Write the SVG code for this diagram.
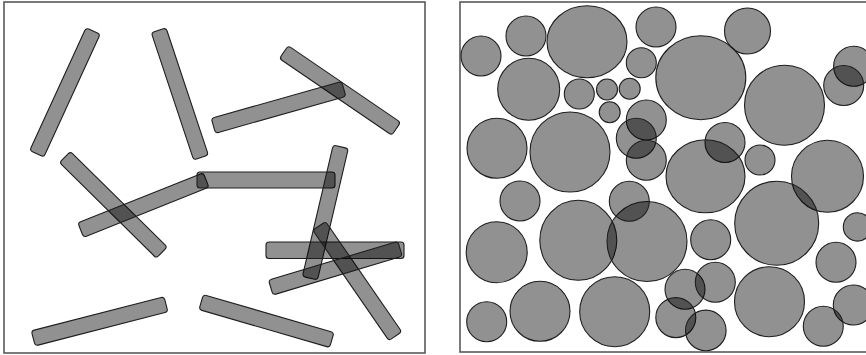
<svg xmlns="http://www.w3.org/2000/svg" width="866" height="355" viewBox="0 0 866 355">
<style>
.frame{fill:#fff;stroke:#5a5a5a;stroke-width:1.6}
.s{fill:#000;fill-opacity:0.43;stroke:#1e1e1e;stroke-width:1.1}
</style>
<rect width="866" height="355" fill="#fff"/>
<rect class="frame" x="4" y="2" width="421" height="351"/>
<rect class="frame" x="460" y="2" width="420" height="350"/>
<g id="bars">
<rect class="s" x="-67.5" y="-7.7" width="135" height="15.5" rx="3" transform="translate(64.9,92.4) rotate(-65.35)"/>
<rect class="s" x="-67" y="-7.7" width="134" height="15.5" rx="3" transform="translate(179.9,93.9) rotate(71.6)"/>
<rect class="s" x="-68" y="-7.7" width="136" height="15.5" rx="3" transform="translate(340,90.4) rotate(34.3)"/>
<rect class="s" x="-67.7" y="-7.7" width="135.5" height="15.5" rx="3" transform="translate(278.5,107.3) rotate(-15.8)"/>
<rect class="s" x="-68" y="-7.7" width="136" height="15.5" rx="3" transform="translate(113.4,204.8) rotate(44.6)"/>
<rect class="s" x="-67.5" y="-7.7" width="135" height="15.5" rx="3" transform="translate(143.4,205) rotate(-21.8)"/>
<rect class="s" x="197" y="172" width="138" height="16" rx="3"/>
<rect class="s" x="-67.5" y="-7.7" width="135" height="15.5" rx="3" transform="translate(325.4,212.5) rotate(103.2)"/>
<rect class="s" x="266" y="242" width="138" height="16.5" rx="3"/>
<rect class="s" x="-67" y="-7.7" width="134" height="15.5" rx="3" transform="translate(357.3,281) rotate(55.4)"/>
<rect class="s" x="-67.5" y="-7.7" width="135" height="15.5" rx="3" transform="translate(335.4,268.1) rotate(-16.7)"/>
<rect class="s" x="-68.5" y="-7.7" width="137" height="15.5" rx="3" transform="translate(99.6,321.3) rotate(-14.4)"/>
<rect class="s" x="-68" y="-7.7" width="136" height="15.5" rx="3" transform="translate(266.5,321) rotate(16.2)"/>
</g>
<g id="circles">
<circle class="s" cx="481" cy="56" r="20"/>
<circle class="s" cx="526" cy="36" r="20"/>
<ellipse class="s" cx="587" cy="41.7" rx="40" ry="36"/>
<circle class="s" cx="528.7" cy="89.2" r="31"/>
<circle class="s" cx="579.3" cy="94" r="15"/>
<circle class="s" cx="607" cy="89.5" r="10.5"/>
<circle class="s" cx="629.7" cy="88.8" r="10.5"/>
<circle class="s" cx="609.7" cy="112.2" r="10.5"/>
<circle class="s" cx="641.3" cy="62.8" r="15"/>
<circle class="s" cx="656" cy="27" r="20"/>
<circle class="s" cx="497" cy="148.3" r="30"/>
<circle class="s" cx="570" cy="152" r="40"/>
<circle class="s" cx="646.3" cy="120" r="20"/>
<circle class="s" cx="636.3" cy="138.3" r="20"/>
<circle class="s" cx="646.3" cy="160.3" r="20"/>
<circle class="s" cx="747.5" cy="31" r="23"/>
<ellipse class="s" cx="700.8" cy="77.7" rx="45" ry="42"/>
<circle class="s" cx="784.5" cy="105.2" r="40"/>
<circle class="s" cx="853.6" cy="66.3" r="20"/>
<circle class="s" cx="843.7" cy="85.5" r="20"/>
<circle class="s" cx="725" cy="142.5" r="20"/>
<circle class="s" cx="760" cy="160" r="15"/>
<ellipse class="s" cx="705.5" cy="176.3" rx="39.5" ry="36.5"/>
<circle class="s" cx="827.5" cy="176.3" r="36"/>
<circle class="s" cx="520" cy="201" r="20"/>
<circle class="s" cx="496.7" cy="252.2" r="30.5"/>
<ellipse class="s" cx="578.3" cy="240.3" rx="38.5" ry="40"/>
<circle class="s" cx="647" cy="241.5" r="40"/>
<circle class="s" cx="629.3" cy="201.2" r="20"/>
<circle class="s" cx="486.7" cy="321.7" r="20"/>
<circle class="s" cx="540" cy="311.3" r="30"/>
<circle class="s" cx="614.7" cy="311.7" r="35"/>
<circle class="s" cx="710.7" cy="239.7" r="20"/>
<circle class="s" cx="776.7" cy="223.3" r="42"/>
<circle class="s" cx="857.5" cy="226.9" r="14.2"/>
<circle class="s" cx="836" cy="262.2" r="20"/>
<circle class="s" cx="769.5" cy="301.7" r="35"/>
<circle class="s" cx="853.3" cy="305" r="20"/>
<circle class="s" cx="823.3" cy="326.3" r="20"/>
<circle class="s" cx="685" cy="289.3" r="20"/>
<circle class="s" cx="715.3" cy="282.3" r="20"/>
<circle class="s" cx="675.8" cy="317.6" r="20"/>
<circle class="s" cx="705.8" cy="330.4" r="20.3"/>
</g>
</svg>
